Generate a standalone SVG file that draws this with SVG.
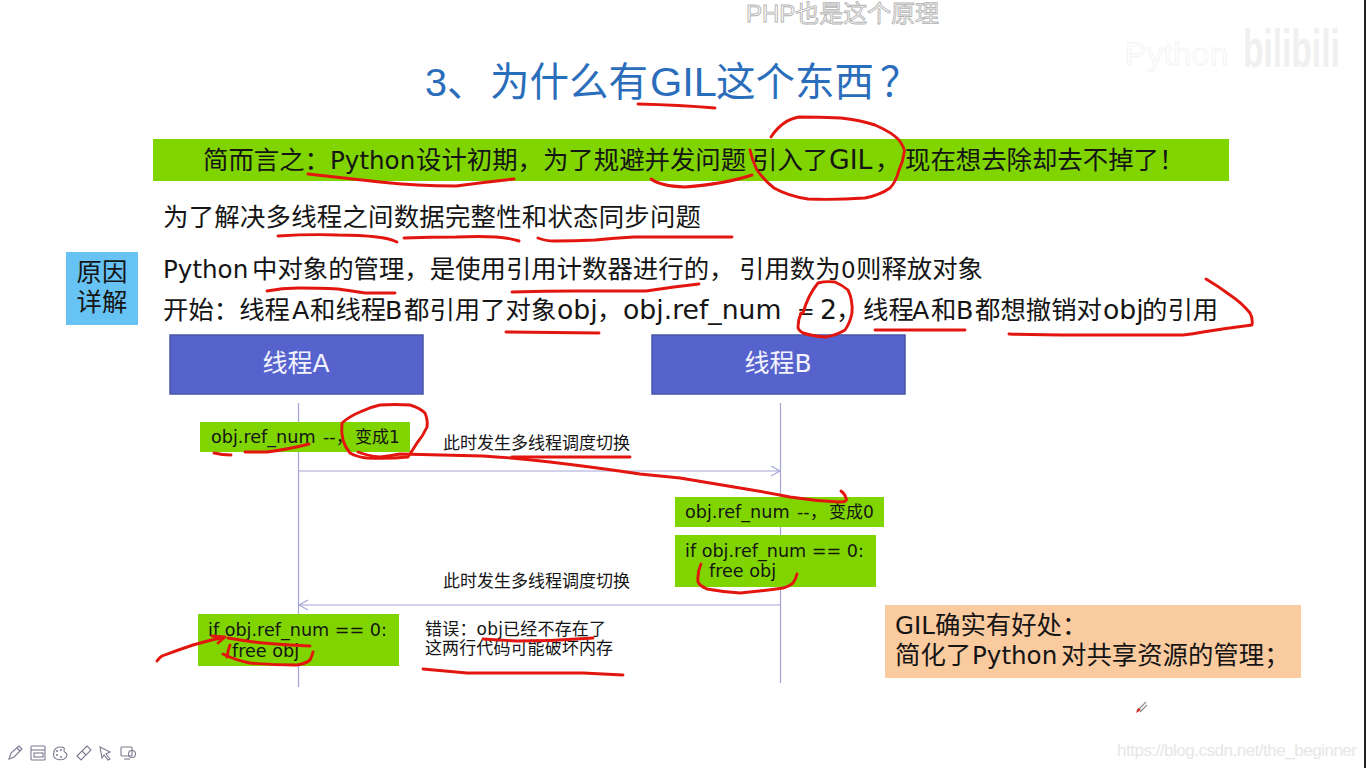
<svg xmlns="http://www.w3.org/2000/svg" width="1366" height="768" viewBox="0 0 1366 768">
<style>
text{font-family:"DejaVu Sans","Noto Sans CJK SC",sans-serif;fill:#151515}
.main{font-size:25.4px}
.py{font-size:24.6px}
.ob{font-size:26.7px}
.gl{font-size:24.5px}
.head{font-size:25px;fill:#f2f3ff}
.small{font-size:17.6px}
.cap{font-size:17px}
.green{fill:#80d400}
.life{stroke:#a4a4d8;stroke-width:1.2;fill:none}
.pen{stroke:#e2160e;stroke-width:2.9;fill:none;stroke-linecap:round;stroke-linejoin:round}
.tool{stroke:#7a7a90;stroke-width:1.1;fill:none}
.dot{fill:#7a7a90}
</style>
<defs>
<marker id="open" markerWidth="12" markerHeight="12" refX="10" refY="5" orient="auto" markerUnits="userSpaceOnUse"><path d="M1 0L10 5L1 10" fill="none" stroke="#a4a4d8" stroke-width="1.1"/></marker>
</defs>
<rect width="1366" height="768" fill="#fff"/>
<rect x="1364" width="2" height="768" fill="#222"/>
<g id="subtitle"><text x="746" y="22" style="font-family:'Liberation Sans','Noto Sans CJK SC',sans-serif;font-size:24px;fill:#fff;stroke:#b4b4b4;stroke-width:.9" textLength="193">PHP也是这个原理</text></g>
<g id="watermark"><text x="1125" y="65" style="font-family:'Liberation Sans',sans-serif;font-size:32px;fill:#fff;stroke:#f2f2f2;stroke-width:.8" textLength="103">Python</text><text x="1243" y="42" transform="scale(1 1.6)" style="font-family:'Liberation Sans',sans-serif;font-size:33.500px;font-weight:700;fill:#f0f0f0">bilibili</text></g>
<g id="title"><text y="96" style="font-family:'Liberation Sans','Noto Sans CJK SC',sans-serif;font-size:39.500px;fill:#2a6ebb"><tspan x="425">3、</tspan><tspan x="490">为什么有</tspan><tspan x="650" font-size="41.500">GIL</tspan><tspan x="716">这个东西</tspan><tspan x="880">？</tspan></text></g>
<g id="summary"><rect x="153" y="139" width="1076" height="42" class="green"/><text y="169" class="main"><tspan x="203">简而言之：</tspan><tspan x="330" class="py">Python</tspan><tspan x="416">设计初期，为了规避并发问题</tspan><tspan x="752">引入了</tspan><tspan x="829" class="ob">GIL</tspan><tspan x="875">，</tspan><tspan x="905">现在想去除却去不掉了！</tspan></text></g>
<g id="line1"><text x="163" y="226" class="main" textLength="538">为了解决多线程之间数据完整性和状态同步问题</text></g>
<g id="reason"><rect x="66" y="252" width="72" height="73" fill="#67c3f3"/><text x="102" y="281" text-anchor="middle" class="main">原因</text><text x="102" y="311" text-anchor="middle" class="main">详解</text></g>
<g id="line2"><text y="278" class="main"><tspan x="163" class="py">Python</tspan><tspan x="252">中对象的管理，是使用引用计数器进行的，</tspan><tspan x="739">引用数为</tspan><tspan x="841" font-size="23">0</tspan><tspan x="856">则释放对象</tspan></text></g>
<g id="line3"><text y="319" class="main"><tspan x="163">开始：线程</tspan><tspan x="292">A</tspan><tspan x="310">和线程</tspan><tspan x="385">B</tspan><tspan x="404">都引用了对象</tspan><tspan x="557" class="ob">obj</tspan><tspan x="597">，</tspan><tspan x="623" class="ob">obj.ref_num</tspan><tspan x="797" font-size="21">=</tspan><tspan x="820" class="ob">2</tspan><tspan x="836">，</tspan><tspan x="863">线程</tspan><tspan x="912">A</tspan><tspan x="931">和</tspan><tspan x="956">B</tspan><tspan x="975">都想撤销对</tspan><tspan x="1103" class="ob">obj</tspan><tspan x="1142">的引用</tspan></text></g>
<g id="threadA"><rect x="170" y="335" width="253" height="59" fill="#5763cc" stroke="#4a55a8" stroke-width="1.500"/><text x="296" y="372" text-anchor="middle" class="head">线程A</text></g>
<g id="threadB"><rect x="652" y="335" width="253" height="59" fill="#5763cc" stroke="#4a55a8" stroke-width="1.500"/><text x="778" y="372" text-anchor="middle" class="head">线程B</text></g>
<g id="connectors">
<path class="life" d="M298.500 403V687"/>
<path class="life" d="M780.500 403V683"/>
<path class="life" d="M299 471H780" marker-end="url(#open)"/>
<path class="life" d="M780 605H299" marker-end="url(#open)"/>
</g>
<g id="step1"><rect x="200" y="422" width="210" height="30" class="green"/><text y="443" class="small"><tspan x="211">obj.ref_num</tspan><tspan x="323">--，</tspan><tspan x="355" class="cap">变成1</tspan></text></g>
<g id="msg1"><text x="443" y="449" class="cap" textLength="187">此时发生多线程调度切换</text></g>
<g id="step2"><rect x="675" y="497" width="209" height="30" class="green"/><text y="518" class="small"><tspan x="685">obj.ref_num</tspan><tspan x="797">--，</tspan><tspan x="829" class="cap">变成0</tspan></text></g>
<g id="step3"><rect x="675" y="535" width="201" height="52" class="green"/><text x="685" y="557" class="small">if obj.ref_num == 0:</text><text x="709" y="577" class="small">free obj</text></g>
<g id="msg2"><text x="443" y="587" class="cap" textLength="187">此时发生多线程调度切换</text></g>
<g id="step4"><rect x="198" y="614" width="201" height="52" class="green"/><text x="208" y="636" class="small">if obj.ref_num == 0:</text><text x="232" y="657" class="small">free obj</text></g>
<g id="error"><text x="425" y="635" class="cap" textLength="181">错误：obj已经不存在了</text><text x="425" y="654" class="cap" textLength="188">这两行代码可能破坏内存</text></g>
<g id="note"><rect x="885" y="605" width="416" height="73" fill="#fbcba0"/><text y="634" class="main"><tspan x="895" class="gl">GIL</tspan><tspan x="935">确实有好处：</tspan></text><text y="664" class="main"><tspan x="895">简化了</tspan><tspan x="972" class="py">Python</tspan><tspan x="1061">对共享资源的管理；</tspan></text></g>
<g id="ink">
<path class="pen" d="M638 104Q680 105 715 108"/>
<path class="pen" d="M308 174Q345 178 380 182Q417 186 456 186Q485 182 514 179"/>
<path class="pen" d="M651 179Q660 186 685 187Q725 184 752 175"/>
<path class="pen" d="M771 137Q782 120 799 117Q820 117 841 118Q860 120 875 125Q893 133 899 140Q906 150 904 153Q903 162 899 170Q896 182 890 188Q880 195 865 198Q835 200 808 199Q788 196 774 188Q764 180 757 170Q752 160 750 150"/>
<path class="pen" d="M278 236Q310 234 338 235Q360 235 377 237Q388 238 397 242"/>
<path class="pen" d="M404 238Q430 237 456 237Q480 236 496 237Q510 238 519 241"/>
<path class="pen" d="M538 238Q545 241 555 241Q575 241 595 240Q615 238 634 237L732 237"/>
<path class="pen" d="M267 291Q282 288 298 288Q320 288 338 289Q352 291 365 293L395 293"/>
<path class="pen" d="M512 292Q545 291 575 291L646 291Q660 289 674 287L699 284"/>
<path class="pen" d="M506 332L599 333"/>
<path class="pen" d="M803 313Q808 295 818 283Q826 281 835 282Q842 285 848 290Q853 300 852 313Q850 323 845 330Q835 336 825 337Q812 336 803 333Q798 330 798 327Q798 320 801 313"/>
<path class="pen" d="M875 330L965 330"/>
<path class="pen" d="M1009 334Q1040 335 1078 335L1183 335Q1193 334 1203 332Q1228 328 1252 325Q1253 318 1250 313Q1242 303 1230 295Q1218 286 1206 279"/>
<path class="pen" d="M214 453Q222 455 231 455"/>
<path class="pen" d="M245 452Q255 452 267 452Q290 449 309 444"/>
<path class="pen" d="M380 405Q395 404 410 405Q420 408 425 413Q428 420 427 427Q423 436 417 443Q412 451 408 457Q388 459 367 458Q357 457 350 453Q345 447 343 440Q341 432 342 423Q350 416 360 412Q370 407 380 405"/>
<path class="pen" d="M358 452Q368 456 380 457Q390 456 400 454Q440 455 483 456Q517 458 550 462Q600 468 640 474Q660 476 680 478Q710 483 740 488Q765 492 790 497Q815 501 840 502Q848 502 846 498Q845 494 841 491"/>
<path class="pen" d="M512 457L630 457"/>
<path class="pen" d="M157 661Q159 658 162 656Q178 650 193 645Q210 640 225 637M212 636L225 637L218 643"/>
<path class="pen" d="M228 638Q245 641 263 643Q285 645 310 646"/>
<path class="pen" d="M230 645Q228 650 227 657M223 654Q235 660 250 663Q273 665 297 665Q305 664 310 660Q312 656 313 652"/>
<path class="pen" d="M483 639Q500 640 517 641Q555 641 593 638"/>
<path class="pen" d="M423 669Q445 671 467 673Q525 673 583 673Q603 674 623 675"/>
<path class="pen" d="M701 564Q697 573 698 582Q700 586 707 589Q723 592 740 593Q762 591 783 588Q790 586 793 583Q796 579 797 574"/>
</g>
<g id="toolbar">
<path class="tool" d="M9 759L11 753L19 746L22 749L14 757Z M17 748L20 751"/>
<rect class="tool" x="31" y="746" width="14" height="14" rx="1"/><rect class="tool" x="34" y="753" width="9" height="4"/><path class="tool" d="M31 750H45"/>
<path class="tool" d="M60 747C53 747 53 755 54 757C57 761 66 761 67 755C67 752 63 753 64 750C65 748 64 747 60 747Z"/><circle class="dot" cx="57" cy="751" r="1"/><circle class="dot" cx="61" cy="750" r="1"/><circle class="dot" cx="57" cy="755" r="1"/><circle class="dot" cx="61" cy="757" r="1"/>
<path class="tool" d="M77 756L87 746L91 750L81 760Z M82 751L86 755"/>
<path class="tool" d="M100 747L110 752L106 754L110 759L108 760L104 755L102 758Z"/>
<rect class="tool" x="121" y="747" width="11" height="9" rx="1"/><circle class="tool" cx="132" cy="754" r="3.500"/><path class="tool" d="M124 759H130"/>
</g>
<g id="brush"><path d="M1137 711L1146 702M1140 712L1147 705" stroke="#8a8a8a" stroke-width="1.100" fill="none"/><path d="M1136 713L1138 708L1141 710Z" fill="#d4201a"/></g>
<g id="csdn"><text x="1117" y="756" style="font-family:'Liberation Sans',sans-serif;font-size:17px;fill:#e6e6e6" textLength="240">https://blog.csdn.net/the_beginner</text></g>
</svg>
